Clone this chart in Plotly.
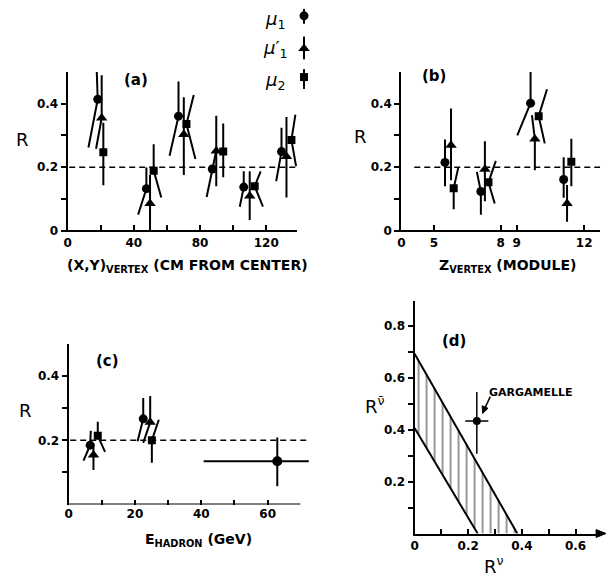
import plotly.graph_objects as go

W, H = 609, 583
FONT = "DejaVu Sans"

# ---------------- DATA ----------------
# Panel (a): R vs (X,Y) vertex (cm from center)
a_mu1_x = [18.2, 47.6, 67.0, 87.4, 106.4, 129.2]
a_mu1_y = [0.414, 0.132, 0.361, 0.194, 0.137, 0.249]
a_mu1_top_x = [17.4, 47.6, 67.0, 90.2, 106.4, 129.2]
a_mu1_top_y = [0.535, 0.199, 0.470, 0.262, 0.187, 0.324]
a_mu1_bot_x = [12.6, 42.6, 61.6, 84.0, 104.0, 126.0]
a_mu1_bot_y = [0.262, 0.050, 0.236, 0.106, 0.075, 0.156]

a_mu1p_x = [20.6, 49.8, 70.2, 89.8, 110.0, 132.2]
a_mu1p_y = [0.355, 0.085, 0.303, 0.251, 0.109, 0.234]
a_mu1p_top_x = [20.6, 49.8, 70.2, 89.8, 110.0, 132.2]
a_mu1p_top_y = [0.490, 0.175, 0.421, 0.362, 0.187, 0.358]
a_mu1p_bot_x = [17.2, 49.8, 70.2, 89.8, 110.0, 132.2]
a_mu1p_bot_y = [0.258, 0.000, 0.175, 0.140, 0.033, 0.104]

a_mu2_x = [21.6, 52.0, 71.8, 94.0, 113.0, 135.2]
a_mu2_y = [0.247, 0.189, 0.336, 0.249, 0.140, 0.286]
a_mu2_top_x = [21.6, 52.0, 76.2, 94.0, 116.6, 137.6]
a_mu2_top_y = [0.340, 0.272, 0.428, 0.338, 0.187, 0.366]
a_mu2_bot_x = [21.6, 56.6, 77.2, 94.0, 118.0, 138.0]
a_mu2_bot_y = [0.143, 0.104, 0.226, 0.168, 0.075, 0.203]

# Panel (b): R vs Z vertex (module)
b_mu1_x = [5.50, 7.11, 9.62, 11.09]
b_mu1_y = [0.215, 0.123, 0.402, 0.161]
b_mu1_top_x = [5.50, 6.93, 9.62, 11.09]
b_mu1_top_y = [0.287, 0.185, 0.510, 0.231]
b_mu1_bot_x = [5.50, 7.11, 9.03, 11.09]
b_mu1_bot_y = [0.140, 0.050, 0.300, 0.103]

b_mu1p_x = [5.77, 7.29, 9.81, 11.24]
b_mu1p_y = [0.269, 0.193, 0.289, 0.085]
b_mu1p_top_x = [5.77, 7.29, 9.68, 11.24]
b_mu1p_top_y = [0.385, 0.282, 0.364, 0.144]
b_mu1p_bot_x = [5.77, 7.29, 9.81, 11.24]
b_mu1p_bot_y = [0.159, 0.092, 0.190, 0.028]

b_mu2_x = [5.89, 7.45, 9.98, 11.43]
b_mu2_y = [0.133, 0.152, 0.361, 0.217]
b_mu2_top_x = [6.10, 7.78, 10.35, 11.43]
b_mu2_top_y = [0.200, 0.220, 0.446, 0.290]
b_mu2_bot_x = [5.89, 7.73, 10.25, 11.43]
b_mu2_bot_y = [0.067, 0.085, 0.275, 0.140]

# module axis of (b) is not uniform: module value -> axis position
b_module_breaks = [0, 5, 8, 9, 12, 12.7]
b_axis_breaks = [0, 32.7, 100, 116, 184, 200]

# Panel (c): R vs E hadron (GeV)
c_mu1_x = [6.5, 22.5]
c_mu1_y = [0.185, 0.267]
c_mu1_top_x = [6.7, 22.5]
c_mu1_top_y = [0.230, 0.332]
c_mu1_bot_x = [4.5, 20.8]
c_mu1_bot_y = [0.137, 0.197]

c_mu1p_x = [7.5, 24.6]
c_mu1p_y = [0.154, 0.256]
c_mu1p_top_x = [7.5, 24.6]
c_mu1p_top_y = [0.190, 0.338]
c_mu1p_bot_x = [7.5, 22.5]
c_mu1p_bot_y = [0.108, 0.192]

c_mu2_x = [8.8, 25.1]
c_mu2_y = [0.214, 0.200]
c_mu2_top_x = [8.8, 27.2]
c_mu2_top_y = [0.258, 0.264]
c_mu2_bot_x = [11.0, 25.1]
c_mu2_bot_y = [0.164, 0.130]

c_all_x = [62.9]
c_all_y = [0.135]
c_all_xlo = [40.7]
c_all_xhi = [72.4]
c_all_ylo = [0.057]
c_all_yhi = [0.209]

R_REF = 0.2

# Panel (d): allowed band in (R^nu, R^nubar)
d_upper_rnu = [0.0, 0.383]
d_upper_rnubar = [0.692, 0.0]
d_lower_rnu = [0.0, 0.235]
d_lower_rnubar = [0.406, 0.0]
d_garg_x = [0.232]
d_garg_y = [0.433]
d_garg_xlo = [0.189]
d_garg_xhi = [0.275]
d_garg_ylo = [0.307]
d_garg_yhi = [0.545]

# tick labels (major = labelled, minor = unlabelled)
a_xticks = [0, 40, 80, 120]
a_xlabels = ["0", "40", "80", "120"]
a_xminor = [20, 60, 100]
ab_yticks = [0, 0.2, 0.4]
ab_ylabels = ["0", "0.2", "0.4"]
ab_yminor = [0.1, 0.3]
b_xticks = [0, 5, 8, 9, 12]
b_xlabels = ["0", "5", "8", "9", "12"]
c_xticks = [0, 20, 40, 60]
c_xlabels = ["0", "20", "40", "60"]
c_xminor = [10, 30, 50]
c_yticks = [0.2, 0.4]
c_ylabels = ["0.2", "0.4"]
c_yminor = [0.1, 0.3]
d_xticks = [0, 0.2, 0.4, 0.6]
d_xlabels = ["0", "0.2", "0.4", "0.6"]
d_xminor = [0.1, 0.3, 0.5]
d_yticks = [0.2, 0.4, 0.6, 0.8]
d_ylabels = ["0.2", "0.4", "0.6", "0.8"]
d_yminor = [0.1, 0.3, 0.5, 0.7]


# ---------------- helpers ----------------
def interp(v, xp, fp):
    out = []
    for t in v:
        for i in range(len(xp) - 1):
            if xp[i] <= t <= xp[i + 1] or i == len(xp) - 2:
                f = (t - xp[i]) / (xp[i + 1] - xp[i])
                out.append(fp[i] + f * (fp[i + 1] - fp[i]))
                break
    return out


def bmap(v):
    return interp(v, b_module_breaks, b_axis_breaks)


def px(p):
    return p / W


def py(p):
    return 1 - p / H


fig = go.Figure()


def add_series(xs, ys, tx, ty, bx, by, symbol, size, xa, ya):
    lx, ly = [], []
    for i in range(len(xs)):
        lx += [bx[i], xs[i], tx[i], None]
        ly += [by[i], ys[i], ty[i], None]
    fig.add_trace(go.Scatter(x=lx, y=ly, mode="lines", line=dict(color="black", width=2),
                             xaxis=xa, yaxis=ya, showlegend=False, hoverinfo="skip"))
    fig.add_trace(go.Scatter(x=xs, y=ys, mode="markers",
                             marker=dict(symbol=symbol, size=size, color="black"),
                             xaxis=xa, yaxis=ya, showlegend=False))


SYM = {"mu1": ("circle", 9), "mu1p": ("triangle-up", 10), "mu2": ("square", 8)}

# Panel (a)
add_series(a_mu1_x, a_mu1_y, a_mu1_top_x, a_mu1_top_y, a_mu1_bot_x, a_mu1_bot_y, *SYM["mu1"], "x", "y")
add_series(a_mu1p_x, a_mu1p_y, a_mu1p_top_x, a_mu1p_top_y, a_mu1p_bot_x, a_mu1p_bot_y, *SYM["mu1p"], "x", "y")
add_series(a_mu2_x, a_mu2_y, a_mu2_top_x, a_mu2_top_y, a_mu2_bot_x, a_mu2_bot_y, *SYM["mu2"], "x", "y")

# Panel (b)
add_series(bmap(b_mu1_x), b_mu1_y, bmap(b_mu1_top_x), b_mu1_top_y, bmap(b_mu1_bot_x), b_mu1_bot_y, *SYM["mu1"], "x2", "y2")
add_series(bmap(b_mu1p_x), b_mu1p_y, bmap(b_mu1p_top_x), b_mu1p_top_y, bmap(b_mu1p_bot_x), b_mu1p_bot_y, *SYM["mu1p"], "x2", "y2")
add_series(bmap(b_mu2_x), b_mu2_y, bmap(b_mu2_top_x), b_mu2_top_y, bmap(b_mu2_bot_x), b_mu2_bot_y, *SYM["mu2"], "x2", "y2")

# Panel (c)
add_series(c_mu1_x, c_mu1_y, c_mu1_top_x, c_mu1_top_y, c_mu1_bot_x, c_mu1_bot_y, *SYM["mu1"], "x3", "y3")
add_series(c_mu1p_x, c_mu1p_y, c_mu1p_top_x, c_mu1p_top_y, c_mu1p_bot_x, c_mu1p_bot_y, *SYM["mu1p"], "x3", "y3")
add_series(c_mu2_x, c_mu2_y, c_mu2_top_x, c_mu2_top_y, c_mu2_bot_x, c_mu2_bot_y, *SYM["mu2"], "x3", "y3")
fig.add_trace(go.Scatter(
    x=c_all_x, y=c_all_y, mode="markers", xaxis="x3", yaxis="y3", showlegend=False,
    marker=dict(symbol="circle", size=10, color="black"),
    error_x=dict(type="data", symmetric=False,
                 array=[c_all_xhi[0] - c_all_x[0]], arrayminus=[c_all_x[0] - c_all_xlo[0]],
                 width=0, thickness=2, color="black"),
    error_y=dict(type="data", symmetric=False,
                 array=[c_all_yhi[0] - c_all_y[0]], arrayminus=[c_all_y[0] - c_all_ylo[0]],
                 width=0, thickness=2, color="black")))

# Panel (d)
band_x = d_upper_rnu + d_lower_rnu[::-1]
band_y = d_upper_rnubar + d_lower_rnubar[::-1]
fig.add_trace(go.Scatter(
    x=band_x, y=band_y, mode="lines", fill="toself", xaxis="x4", yaxis="y4",
    line=dict(width=0, color="rgba(0,0,0,0)"), showlegend=False, hoverinfo="skip",
    fillcolor="white",
    fillpattern=dict(shape="|", size=8, solidity=0.2, fgcolor="black", bgcolor="white")))
fig.add_trace(go.Scatter(x=d_upper_rnu, y=d_upper_rnubar, mode="lines", xaxis="x4", yaxis="y4",
                         line=dict(color="black", width=2), showlegend=False))
fig.add_trace(go.Scatter(x=d_lower_rnu, y=d_lower_rnubar, mode="lines", xaxis="x4", yaxis="y4",
                         line=dict(color="black", width=2), showlegend=False))
fig.add_trace(go.Scatter(
    x=d_garg_x, y=d_garg_y, mode="markers", xaxis="x4", yaxis="y4", showlegend=False,
    marker=dict(symbol="circle", size=8, color="black"),
    error_x=dict(type="data", symmetric=False,
                 array=[d_garg_xhi[0] - d_garg_x[0]], arrayminus=[d_garg_x[0] - d_garg_xlo[0]],
                 width=0, thickness=1.5, color="black"),
    error_y=dict(type="data", symmetric=False,
                 array=[d_garg_yhi[0] - d_garg_y[0]], arrayminus=[d_garg_y[0] - d_garg_ylo[0]],
                 width=0, thickness=1.5, color="black")))

# Legend key (drawn on an invisible full-page axis, pixel units)
leg_items = [("circle", 9, 16, 9, 24), ("triangle-up", 10, 49, 37, 60), ("square", 8, 78, 70, 90)]
for sym, sz, yc, y0, y1 in leg_items:
    fig.add_trace(go.Scatter(x=[302, 302], y=[y0, y1], mode="lines", xaxis="x5", yaxis="y5",
                             line=dict(color="black", width=2), showlegend=False, hoverinfo="skip"))
    fig.add_trace(go.Scatter(x=[302], y=[yc], mode="markers", xaxis="x5", yaxis="y5",
                             marker=dict(symbol=sym, size=sz, color="black"), showlegend=False))

# ---------------- axes ----------------
tickfont = dict(family=FONT, size=12, color="black", weight="bold")
common = dict(showgrid=False, zeroline=False, showline=True, linecolor="black", linewidth=2,
              tickcolor="black", tickwidth=1.5, ticklen=5, tickfont=tickfont, fixedrange=True,
              tickmode="array")


def minor(vals, side):
    return dict(tickmode="array", tickvals=vals, ticks=side, ticklen=5, tickwidth=1.5,
                tickcolor="black", showgrid=False)


ya_dom = [py(233.3), py(73)]
fig.update_layout(
    xaxis=dict(domain=[px(64), px(295)], range=[0, 138.6], anchor="y", ticks="inside",
               tickvals=a_xticks, ticktext=a_xlabels, minor=minor(a_xminor, "inside"), **common),
    yaxis=dict(domain=ya_dom, range=[0, 0.5], anchor="x", ticks="outside",
               tickvals=ab_yticks, ticktext=ab_ylabels, minor=minor(ab_yminor, "outside"), **common),
    xaxis2=dict(domain=[px(400), px(600)], range=[0, 200], anchor="y2", ticks="inside",
                tickvals=bmap(b_xticks), ticktext=b_xlabels, **common),
    yaxis2=dict(domain=ya_dom, range=[0, 0.5], anchor="x2", ticks="outside",
                tickvals=ab_yticks, ticktext=ab_ylabels, minor=minor(ab_yminor, "outside"), **common),
    xaxis3=dict(domain=[px(65), px(65 + 73 * 3.34)], range=[0, 73], anchor="y3", ticks="inside",
                tickvals=c_xticks, ticktext=c_xlabels, minor=minor(c_xminor, "inside"),
                **{**common, "showline": False}),
    yaxis3=dict(domain=[py(510.7), py(510.7 - 162.5)], range=[0, 0.5], anchor="x3", ticks="outside",
                tickvals=c_yticks, ticktext=c_ylabels, minor=minor(c_yminor, "outside"), **common),
    xaxis4=dict(domain=[px(413.3), px(600)], range=[0, 0.6915], anchor="y4", ticks="inside",
                tickvals=d_xticks, ticktext=d_xlabels, minor=minor(d_xminor, "inside"), **common),
    yaxis4=dict(domain=[py(540), py(305)], range=[0, 0.894], anchor="x4", ticks="outside",
                tickvals=d_yticks, ticktext=d_ylabels, minor=minor(d_yminor, "outside"), **common),
    xaxis5=dict(domain=[0, 1], range=[0, W], visible=False, anchor="y5", fixedrange=True),
    yaxis5=dict(domain=[0, 1], range=[H, 0], visible=False, anchor="x5", fixedrange=True),
)

# ---------------- shapes ----------------
dash = dict(color="black", width=1.5, dash="6px,4px")


def ppath(points):
    s = " L ".join(f"{px(a)} {py(b)}" for a, b in points)
    return "M " + s + " Z"


shapes = [
    dict(type="line", xref="x", yref="y", x0=1, x1=138.6, y0=R_REF, y1=R_REF, line=dash),
    dict(type="line", xref="x2", yref="y2", x0=13, x1=200, y0=R_REF, y1=R_REF, line=dash),
    dict(type="line", xref="x3", yref="y3", x0=0.5, x1=72.8, y0=R_REF, y1=R_REF, line=dash),
    dict(type="line", xref="x3", yref="y3", x0=0, x1=69.85, y0=0, y1=0,
         line=dict(color="black", width=2)),
    # arrowhead at the end of the R^nu axis
    dict(type="path", xref="paper", yref="paper",
         path=ppath([(606, 540), (596, 536), (596, 544)]),
         fillcolor="black", line=dict(color="black", width=1)),
    # pointer from GARGAMELLE label to its point
    dict(type="line", xref="paper", yref="paper", x0=px(489.5), y0=py(401.5),
         x1=px(484.5), y1=py(412.0), line=dict(color="black", width=1.5)),
    dict(type="path", xref="paper", yref="paper",
         path=ppath([(481.8, 418.5), (487.2, 413.3), (481.3, 410.7)]),
         fillcolor="black", line=dict(color="black", width=1)),
]

# ---------------- annotations ----------------
def ann(text, x, y, size, bold=False, **kw):
    f = dict(family=FONT, size=size, color="black")
    if bold:
        f["weight"] = "bold"
    d = dict(text=text, x=px(x), y=py(y), xref="paper", yref="paper", showarrow=False,
             font=f, xanchor="center", yanchor="middle")
    d.update(kw)
    return d


annotations = [
    ann("<i>μ</i><sub>1</sub>", 273, 20, 18),
    ann("<i>μ</i>′<sub>1</sub>", 273, 50, 18),
    ann("<i>μ</i><sub>2</sub>", 273, 82, 18),
    ann("(a)", 133, 81, 15, True),
    ann("(b)", 433, 77, 15, True),
    ann("(c)", 104, 365, 15, True),
    ann("(d)", 453, 345, 15, True),
    ann("R", 19, 141, 18),
    ann("R", 359, 138, 18),
    ann("R", 22, 415, 18),
    ann("R<sup>ν̄</sup>", 373, 410, 18),
    ann("R<sup>ν</sup>", 493, 572, 18),
    ann("(X,Y)<sub>VERTEX</sub> (CM FROM CENTER)", 185, 269, 14, True),
    ann("Z<sub>VERTEX</sub> (MODULE)", 507, 269, 14, True),
    ann("E<sub>HADRON</sub> (GeV)", 196, 547, 14, True),
    ann("GARGAMELLE", 530, 397, 11, True),
]

fig.update_layout(
    width=W, height=H, autosize=False,
    margin=dict(l=0, r=0, t=0, b=0, pad=0),
    paper_bgcolor="white", plot_bgcolor="rgba(0,0,0,0)",
    shapes=shapes, annotations=annotations, showlegend=False,
    font=dict(family=FONT, color="black"),
)

fig.write_html("out.html")
